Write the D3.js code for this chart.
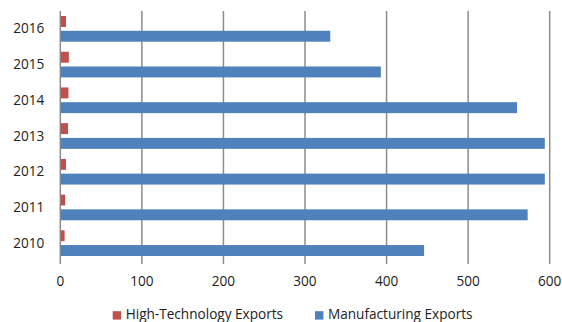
<!DOCTYPE html>
<html><head><meta charset="utf-8">
<script src="https://cdn.jsdelivr.net/npm/d3@7/dist/d3.min.js"></script>
<style>body{margin:0;background:#fff}svg{display:block}text{font-family:"Open Sans",sans-serif;fill:#222}</style>
</head><body><svg id="c" width="562" height="322"></svg>
<script>
const years = ["2016","2015","2014","2013","2012","2011","2010"];
const highTech = [7, 10.5, 10, 9.5, 7, 6, 5.3];
const manufacturing = [331, 393, 560, 594, 594, 573, 446];
const xTicks = [0,100,200,300,400,500,600];
const seriesNames = ["High-Technology Exports","Manufacturing Exports"];
const colors = ["#c0504d","#4f81bd"];

const svg = d3.select("#c");
const x = d3.scaleLinear().domain([0,600]).range([60.3,549.7]);
const y = d3.scaleBand().domain(years).range([11,261]);
const sub = d3.scaleBand().domain([0,1]).range([0,y.bandwidth()]).paddingInner(0.26).paddingOuter(0.34);

// grid
svg.append("g").selectAll("line").data(xTicks).join("line")
  .attr("x1",d=>x(d)).attr("x2",d=>x(d)).attr("y1",11).attr("y2",264)
  .attr("stroke","#8c8c8c").attr("stroke-width",1.5);

const series = [highTech, manufacturing];
series.forEach((vals,si)=>{
  svg.append("g").selectAll("rect").data(years).join("rect")
    .attr("x",x(0)+0.5).attr("y",(d)=>y(d)+sub(si))
    .attr("width",(d,i)=>x(vals[i])-x(0)-0.5).attr("height",sub.bandwidth())
    .attr("fill",colors[si]);
});

// y labels
svg.append("g").selectAll("text").data(years).join("text")
  .attr("x",44.3).attr("y",d=>y(d)+y.bandwidth()/2+4.6).attr("text-anchor","end")
  .attr("font-size",13.6).text(d=>d);

// x labels
svg.append("g").selectAll("text").data(xTicks).join("text")
  .attr("x",d=>x(d)).attr("y",286).attr("text-anchor","middle")
  .attr("font-size",13.6).text(d=>d);

// legend
const lx = [112.7, 315];
seriesNames.forEach((n,i)=>{
  svg.append("rect").attr("x",lx[i]).attr("y",311.2).attr("width",8.4).attr("height",8.4).attr("fill",colors[i]);
  svg.append("text").attr("x",lx[i]+13).attr("y",318.5)
    .attr("font-size",13.6).text(n);
});
</script></body></html>
